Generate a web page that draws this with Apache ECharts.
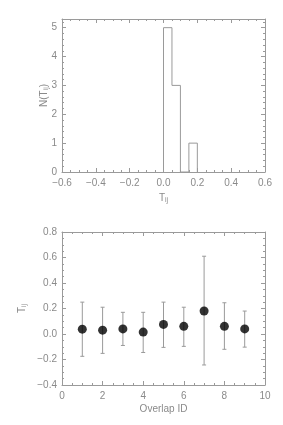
<!DOCTYPE html>
<html>
<head>
<meta charset="utf-8">
<script src="https://cdn.jsdelivr.net/npm/echarts@6/dist/echarts.min.js"></script>
<style>
html,body{margin:0;padding:0;background:#fff;}
#chart{width:283px;height:425px;}
</style>
</head>
<body>
<div id="chart"></div>
<script>
// ---- data ----
var histEdges = [0.00, 0.05, 0.10, 0.15, 0.20];
var histCounts = [5, 3, 0, 1];

var overlapIds = [1, 2, 3, 4, 5, 6, 7, 8, 9];
var tValues = [0.038, 0.030, 0.040, 0.015, 0.075, 0.060, 0.180, 0.060, 0.040];
var errLow  = [-0.175, -0.152, -0.090, -0.145, -0.105, -0.097, -0.243, -0.120, -0.103];
var errHigh = [0.250, 0.210, 0.170, 0.170, 0.250, 0.210, 0.610, 0.245, 0.180];

var histXTicks = [-0.6, 0.6, 0.2];   // min, max, interval
var histYTicks = [0, 5.3, 1];
var idXTicks = [0, 10, 2];
var tYTicks = [-0.4, 0.8, 0.2];

// ---- build ----
var histLine = [];
for (var i = 0; i < histCounts.length; i++) {
  var prev = i === 0 ? 0 : histCounts[i - 1];
  histLine.push([histEdges[i], prev]);
  histLine.push([histEdges[i], histCounts[i]]);
  histLine.push([histEdges[i + 1], histCounts[i]]);
}
histLine.push([histEdges[histEdges.length - 1], 0]);

var errData = overlapIds.map(function (id, i) { return [id, errLow[i], errHigh[i]]; });
var ptData = overlapIds.map(function (id, i) { return [id, tValues[i]]; });

var TXT = '#8a8a8a';
var LN = '#9a9a9a';
var FONT = "'Liberation Sans Narrow','Liberation Sans',Arial,sans-serif";

function fmt1(v) {
  var s = (Math.abs(v) < 1e-9 ? 0 : v).toFixed(1);
  return s.replace('-', '\u2212');
}

function axisBase(gridIndex, pos, t, minorSplit, showLabel, formatter) {
  return {
    type: 'value', gridIndex: gridIndex, position: pos,
    min: t[0], max: t[1], interval: t[2],
    nameMoveOverlap: false,
    axisLine: { show: true, onZero: false, lineStyle: { color: LN, width: 1 } },
    axisTick: { show: true, inside: true, length: 4, lineStyle: { color: LN } },
    minorTick: { show: true, splitNumber: minorSplit, length: 2, lineStyle: { color: LN } },
    splitLine: { show: false },
    minorSplitLine: { show: false },
    axisLabel: { show: showLabel, color: TXT, fontSize: 10, fontFamily: FONT, margin: 6,
                 formatter: formatter, showMaxLabel: Math.abs(t[1]/t[2] - Math.round(t[1]/t[2])) < 1e-6 }
  };
}

var richSub = {
  t: { fontSize: 10, color: TXT, fontFamily: FONT },
  s: { fontSize: 7, color: TXT, fontFamily: FONT, verticalAlign: 'bottom', padding: [5, 0, 0, 0] }
};

var x0 = axisBase(0, 'bottom', histXTicks, 4, true, fmt1);
x0.name = '{t|T}{s|ij}'; x0.nameLocation = 'middle'; x0.nameGap = 20;
x0.nameTextStyle = { color: TXT, fontSize: 10, fontFamily: FONT, rich: richSub };
var x1 = axisBase(0, 'top', histXTicks, 4, false);

var y0 = axisBase(0, 'left', histYTicks, 5, true, function (v) { return String(v); });
y0.axisLabel.margin = 5;
y0.name = 'N({t|T}{s|ij})'; y0.nameLocation = 'middle'; y0.nameGap = 12;
y0.nameTextStyle = { color: TXT, fontSize: 10, fontFamily: FONT, rich: richSub };
var y1 = axisBase(0, 'right', histYTicks, 5, false);

var x2 = axisBase(1, 'bottom', idXTicks, 4, true, function (v) { return String(v); });
x2.name = 'Overlap ID'; x2.nameLocation = 'middle'; x2.nameGap = 19;
x2.nameTextStyle = { color: TXT, fontSize: 10, fontFamily: FONT };
var x3 = axisBase(1, 'top', idXTicks, 4, false);

var y2 = axisBase(1, 'left', tYTicks, 4, true, fmt1);
y2.axisLabel.margin = 5;
y2.name = '{t|T}{s|ij}'; y2.nameLocation = 'middle'; y2.nameGap = 34;
y2.nameTextStyle = { color: TXT, fontSize: 10, fontFamily: FONT, rich: richSub };
var y3 = axisBase(1, 'right', tYTicks, 4, false);

var chart = echarts.init(document.getElementById('chart'), null, { renderer: 'canvas' });
chart.setOption({
  animation: false,
  backgroundColor: '#fff',
  grid: [
    { left: 62, right: 18, top: 19, height: 153 },
    { left: 62, right: 18, top: 232, height: 153 }
  ],
  xAxis: [x0, x1, x2, x3],
  yAxis: [y0, y1, y2, y3],
  series: [
    {
      type: 'line', xAxisIndex: 0, yAxisIndex: 0, data: histLine,
      symbol: 'none', lineStyle: { color: LN, width: 1 }, silent: true
    },
    {
      type: 'custom', xAxisIndex: 2, yAxisIndex: 2, data: errData, silent: true,
      renderItem: function (params, api) {
        var x = api.value(0);
        var lo = api.coord([x, api.value(1)]);
        var hi = api.coord([x, api.value(2)]);
        var w = 2;
        var st = { stroke: LN, lineWidth: 1 };
        return {
          type: 'group',
          children: [
            { type: 'line', shape: { x1: lo[0], y1: lo[1], x2: hi[0], y2: hi[1] }, style: st },
            { type: 'line', shape: { x1: hi[0] - w, y1: hi[1], x2: hi[0] + w, y2: hi[1] }, style: st },
            { type: 'line', shape: { x1: lo[0] - w, y1: lo[1], x2: lo[0] + w, y2: lo[1] }, style: st }
          ]
        };
      }
    },
    {
      type: 'scatter', xAxisIndex: 2, yAxisIndex: 2, data: ptData,
      symbol: 'circle', symbolSize: 9, itemStyle: { color: '#000' }, z: 5, silent: true
    }
  ]
});
</script>
</body>
</html>
